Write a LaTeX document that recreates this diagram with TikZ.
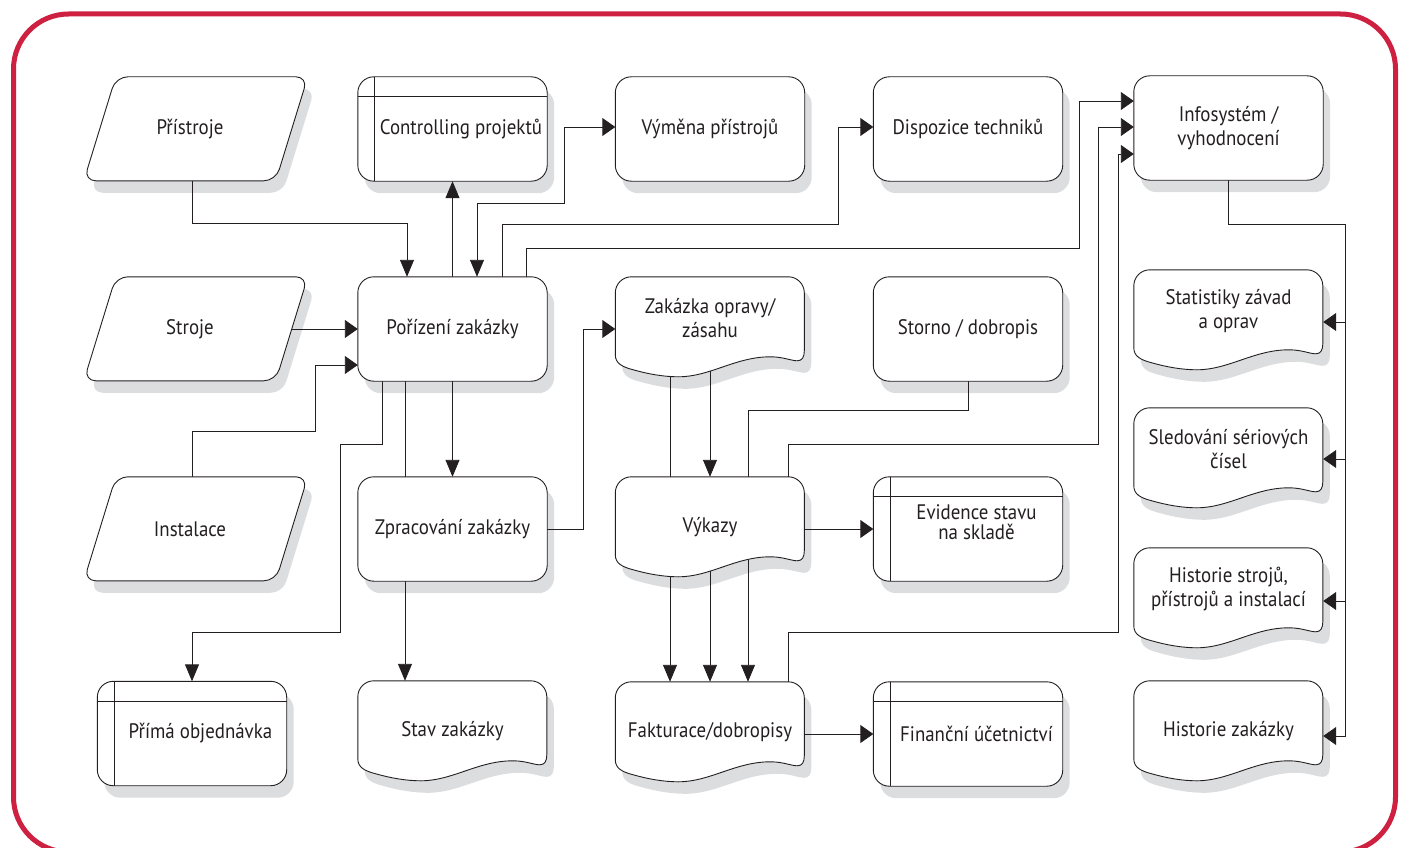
\documentclass[tikz,border=0pt]{standalone}
\usepackage{fontspec}
\setmainfont[FakeStretch=0.9]{PT Sans}
\usetikzlibrary{arrows.meta,calc}
\definecolor{framered}{RGB}{206,32,64}
\definecolor{shadowc}{RGB}{220,221,223}
\definecolor{linec}{RGB}{35,31,32}
\pgfdeclarelayer{shadowlayer}
\pgfdeclarelayer{connlayer}
\pgfdeclarelayer{shapelayer}
\pgfsetlayers{shadowlayer,connlayer,shapelayer,main}
\newcommand\lblfont{\fontsize{21}{24}\selectfont}
\newcommand\stp{\hspace*{17pt}}
\newcommand\pgp{\hspace*{-12pt}}
\tikzset{
  hT/.tip={Triangle[length=13pt,width=18pt]},
  vT/.tip={Triangle[length=17pt,width=14pt]},
  lbl/.style={font=\lblfont, align=center, inner sep=0pt, text=linec, minimum width=189pt},
  boxn/.style={lbl, minimum height=104pt},
  paran/.style={lbl, minimum width=224pt, minimum height=104pt},
  docone/.style={lbl, minimum height=100pt},
  doctwo/.style={lbl, minimum height=82pt},
  shapeline/.style={draw=linec, line width=0.9pt},
  conn/.style={draw=linec, line width=0.9pt},
  arrh/.style={conn, -hT},
  arrv/.style={conn, -vT},
  arrboth/.style={conn, vT-hT},
}
\newcommand\RRshape[1]{%
  \begin{pgfonlayer}{shadowlayer}
    \fill[shadowc,rounded corners=16pt] ([shift={(7,12)}]#1.north west) rectangle ([shift={(7,12)}]#1.south east);
  \end{pgfonlayer}
  \begin{pgfonlayer}{shapelayer}
    \draw[shapeline,fill=white,rounded corners=16pt] (#1.north west) rectangle (#1.south east);
  \end{pgfonlayer}}
\newcommand\STshape[1]{\RRshape{#1}%
  \begin{pgfonlayer}{shapelayer}
    \draw[shapeline] ([xshift=17pt]#1.north west) -- ([xshift=17pt]#1.south west);
    \draw[shapeline] ([yshift=-20pt]#1.north west) -- ([yshift=-20pt]#1.north east);
  \end{pgfonlayer}}
\newcommand\PGshape[1]{%
  \begin{pgfonlayer}{shadowlayer}
    \fill[shadowc,rounded corners=12pt,shift={(#1.north west)},shift={(7,12)}] (32,0) -- (224,0) -- (192,104) -- (0,104) -- cycle;
  \end{pgfonlayer}
  \begin{pgfonlayer}{shapelayer}
    \draw[shapeline,fill=white,rounded corners=12pt,shift={(#1.north west)}] (32,0) -- (224,0) -- (192,104) -- (0,104) -- cycle;
  \end{pgfonlayer}}
\newcommand\DOCshape[1]{%
  \begin{pgfonlayer}{shadowlayer}
    \fill[shadowc,shift={(#1.north west)},shift={(7,12)}] (0,16) .. controls (0,7.2) and (7.2,0) .. (16,0) -- (173,0) .. controls (181.8,0) and (189,7.2) .. (189,16) -- (189,74) .. controls (189,80) and (187,84) .. (182,84) .. controls (176,84) and (168,80) .. (155,80) .. controls (120,80) and (95,100) .. (63,100) .. controls (48,100) and (32,97) .. (18,93) .. controls (6,90) and (0,86) .. (0,78) -- cycle;
  \end{pgfonlayer}
  \begin{pgfonlayer}{shapelayer}
    \draw[shapeline,fill=white,shift={(#1.north west)}] (0,16) .. controls (0,7.2) and (7.2,0) .. (16,0) -- (173,0) .. controls (181.8,0) and (189,7.2) .. (189,16) -- (189,74) .. controls (189,80) and (187,84) .. (182,84) .. controls (176,84) and (168,80) .. (155,80) .. controls (120,80) and (95,100) .. (63,100) .. controls (48,100) and (32,97) .. (18,93) .. controls (6,90) and (0,86) .. (0,78) -- cycle;
  \end{pgfonlayer}}
\begin{document}
\begin{tikzpicture}[x=1pt,y=-1pt]
\useasboundingbox (0,0) rectangle (1402,848);
\begin{scope}
  \clip (0,0) rectangle (1402,848);
  \draw[framered,line width=5pt,rounded corners=55pt] (13.5,14) rectangle (1395.5,852);
\end{scope}

% nodes (text)
\node[paran] (pristroje) at (196,129) {\pgp Přístroje};
\node[paran] (stroje) at (196,329) {\pgp Stroje};
\node[paran] (instalace) at (196,529) {\pgp Instalace};
\node[boxn] (controlling) at (452.5,129) {\stp Controlling projektů};
\node[boxn] (vymena) at (710,129) {Výměna přístrojů};
\node[boxn] (dispozice) at (968,129) {Dispozice techniků};
\node[boxn] (info) at (1228.5,128) {Infosystém /\\vyhodnocení};
\node[boxn] (porizeni) at (452.5,329) {Pořízení zakázky};
\node[doctwo] (zakazka) at (710,318) {Zakázka opravy/\\zásahu};
\node[boxn] (storno) at (968,329) {Storno / dobropis};
\node[doctwo] (statistiky) at (1228.5,311) {Statistiky závad\\a oprav};
\node[boxn] (zpracovani) at (452.5,529) {Zpracování zakázky};
\node[docone] (vykazy) at (710,527) {Výkazy};
\node[boxn] (evidence) at (968,529) {\stp Evidence stavu\\[-4pt]\stp na skladě\\[-10pt]\mbox{}};
\node[doctwo] (sledovani) at (1228.5,449) {Sledování sériových\\čísel};
\node[doctwo] (historiestroju) at (1228.5,589) {Historie strojů,\\přístrojů a instalací};
\node[boxn] (prima) at (192,733.5) {\stp Přímá objednávka};
\node[docone] (stav) at (452.5,731) {Stav zakázky};
\node[docone] (fakturace) at (710,732) {Fakturace/dobropisy};
\node[boxn] (financni) at (968,734) {\stp Finanční účetnictví};
\node[docone] (historiezak) at (1228.5,731) {Historie zakázky};

% shapes
\PGshape{pristroje}\PGshape{stroje}\PGshape{instalace}
\STshape{controlling}\STshape{evidence}\STshape{prima}\STshape{financni}
\RRshape{vymena}\RRshape{dispozice}\RRshape{info}\RRshape{porizeni}\RRshape{storno}\RRshape{zpracovani}
\DOCshape{zakazka}\DOCshape{statistiky}\DOCshape{vykazy}\DOCshape{sledovani}\DOCshape{historiestroju}\DOCshape{stav}\DOCshape{fakturace}\DOCshape{historiezak}

% connectors
\begin{pgfonlayer}{connlayer}
\draw[arrv] ([xshift=-4pt]pristroje.center) |- ([xshift=-45.5pt,yshift=53pt]porizeni.north) -- ([xshift=-45.5pt]porizeni.north);
\draw[arrv] (porizeni.north) -- (controlling.south);
\draw[arrboth] ([xshift=24.5pt]porizeni.north) |- (564,203) |- ([yshift=2pt]vymena.west);
\draw[arrh] ([xshift=49.5pt]porizeni.north) |- (838,224) |- ([yshift=2pt]dispozice.west);
\draw[arrh] ([xshift=73.5pt]porizeni.north) |- (1079,248) |- ([yshift=27pt]info.west);
\draw[arrh] ([xshift=78pt]vykazy.north) |- (1098,444) |- ([yshift=1pt]info.west);
\draw[arrh] ([xshift=78pt]fakturace.north) |- (1118,632) |- ([yshift=-26pt]info.west);
\draw[arrv] (storno.center) |- (748,410) -- ([xshift=38pt]fakturace.north);
\draw[arrv] ([xshift=-40pt]zakazka.center) -- ([xshift=-40pt]fakturace.north);
\draw[arrv] (zakazka.center) -- (vykazy.north);
\draw[arrv] (vykazy.center) -- (fakturace.north);
\draw[arrh] (vykazy.center |- evidence.west) -- (evidence.west);
\draw[arrh] (fakturace.center |- financni.west) -- (financni.west);
\draw[arrh] (zpracovani.center) -- ++(130.5,0) |- ([yshift=-11pt]zakazka.west);
\draw[arrh] (stroje.center) -- (porizeni.west);
\draw[arrh] ([xshift=-4pt]instalace.center) |- (315,431) |- ([yshift=-36pt]porizeni.west);
\draw[arrv] ([xshift=-70.5pt]porizeni.center) |- (340,444) -- (340,632) -| (prima.north);
\draw[arrv] (porizeni.center) -- (zpracovani.north);
\draw[arrv] ([xshift=-47.5pt]porizeni.center) -- ([xshift=-47.5pt]stav.north);
\draw[arrh] (info.center) |- (1345,224) |- ([yshift=-11pt]statistiky.east);
\draw[arrh] (info.center) |- (1345,224) |- ([yshift=-10pt]sledovani.east);
\draw[arrh] (info.center) |- (1345,224) |- ([yshift=-12pt]historiestroju.east);
\draw[arrh] (info.center) |- (1345,224) |- ([yshift=-5pt]historiezak.east);
\end{pgfonlayer}
\end{tikzpicture}
\end{document}
